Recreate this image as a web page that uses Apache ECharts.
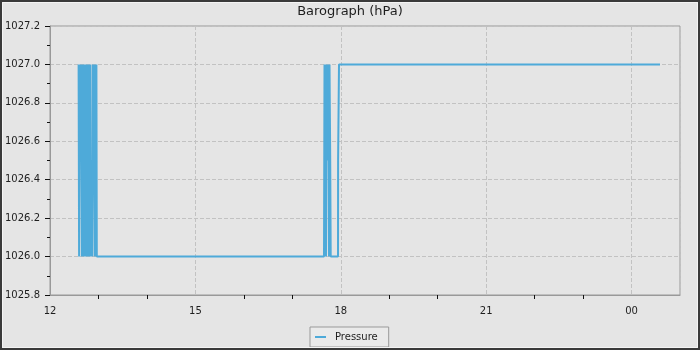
<!DOCTYPE html>
<html>
<head>
<meta charset="utf-8">
<script src="https://cdn.jsdelivr.net/npm/echarts@6/dist/echarts.min.js"></script>
<style>
html,body{margin:0;padding:0;background:#e5e5e5;}
#chart{width:700px;height:350px;}
</style>
</head>
<body>
<div id="chart"></div>
<script>
// Reading times (HH:MM:SS, times before 12:00 belong to the next day)
const times = [
  "12:35:25","12:36:02","12:36:31","12:37:09","12:37:53","12:38:31","12:39:30",
  "12:40:29","12:41:29","12:42:28","12:43:28","12:44:27","12:45:26","12:46:26",
  "12:47:25","12:48:25","12:49:17","12:49:54","12:50:31","12:51:01","12:52:00",
  "12:52:30","12:52:59","12:53:37","12:54:14","12:54:51","12:55:43","12:56:20",
  "12:56:57","12:57:27","12:57:56",
  "17:39:15","17:39:52","17:40:29","17:41:07","17:41:44","17:42:21","17:43:13",
  "17:44:27","17:45:26","17:46:04","17:46:56","17:47:33","17:56:35","17:56:42",
  "17:57:19","17:57:49","00:35:16"
];
// Pressure (hPa)
const pressure = [
  1027.0,1026.0,1026.5,1027.0,1026.5,1027.0,1026.0,
  1027.0,1026.0,1027.0,1026.0,1027.0,1026.0,1027.0,
  1026.0,1027.0,1026.0,1027.0,1026.0,1026.5,1026.5,
  1026.0,1027.0,1026.5,1027.0,1026.5,1026.0,1027.0,
  1026.0,1027.0,1026.0,
  1026.0,1027.0,1026.0,1027.0,1026.0,1027.0,1026.5,
  1027.0,1026.0,1027.0,1026.5,1026.0,1026.0,1026.5,
  1026.5,1027.0,1027.0
];
// X axis ticks (hours since midnight of first day) and their labels
const xTickHours = [12, 15, 18, 21, 24];
const xTickLabels = ["12", "15", "18", "21", "00"];
// Y axis ticks
const yTicks = [1025.8, 1026.0, 1026.2, 1026.4, 1026.6, 1026.8, 1027.0, 1027.2];

function toHours(t) {
  const p = t.split(":").map(Number);
  let h = p[0] + p[1] / 60 + p[2] / 3600;
  if (p[0] < 12) h += 24;
  return h;
}
const seriesData = times.map((t, i) => [toHours(t), pressure[i]]);

const font = "DejaVu Sans";
const chart = echarts.init(document.getElementById("chart"), null, {renderer: "canvas"});
chart.setOption({
  animation: false,
  backgroundColor: "#e5e5e5",
  title: {
    text: "Barograph (hPa)",
    left: "center",
    top: 0,
    textStyle: {fontFamily: font, fontSize: 13, fontWeight: "normal", color: "#1e1e1e"}
  },
  legend: {
    data: ["Pressure"],
    left: 310,
    top: 327,
    orient: "horizontal",
    icon: "rect",
    itemWidth: 11,
    itemHeight: 2,
    padding: [5, 11, 5, 5],
    backgroundColor: "#eaeaea",
    borderColor: "#999",
    borderWidth: 1,
    borderRadius: 0,
    textStyle: {fontFamily: font, fontSize: 10, color: "#1e1e1e", lineHeight: 10, padding: [0, 0, 0, 4]}
  },
  grid: {
    left: 50, right: 20, top: 26, bottom: 55,
    show: true, borderColor: "#999", borderWidth: 1, backgroundColor: "transparent"
  },
  xAxis: {
    type: "value",
    min: xTickHours[0],
    max: 25,
    interval: 3,
    axisLine: {show: true, lineStyle: {color: "#999", width: 1}},
    axisTick: {show: false},
    minorTick: {show: true, splitNumber: 3, length: 4, lineStyle: {color: "#111", width: 1}},
    splitLine: {show: true, lineStyle: {color: "#c2c2c2", type: [4, 2], width: 1}},
    axisLabel: {
      margin: 11,
      fontFamily: font, fontSize: 10, color: "#1e1e1e",
      formatter: function (v) {
        const i = xTickHours.indexOf(Math.round(v));
        return i >= 0 ? xTickLabels[i] : "";
      }
    }
  },
  yAxis: {
    type: "value",
    min: yTicks[0],
    max: yTicks[yTicks.length - 1],
    interval: 0.2,
    axisLine: {show: true, lineStyle: {color: "#999", width: 1}},
    axisTick: {show: true, length: 5, lineStyle: {color: "#111", width: 1}},
    minorTick: {show: true, splitNumber: 2, length: 3, lineStyle: {color: "#111", width: 1}},
    splitLine: {show: true, lineStyle: {color: "#c2c2c2", type: [4, 2], width: 1}},
    axisLabel: {
      margin: 10,
      fontFamily: font, fontSize: 10, color: "#1e1e1e",
      formatter: function (v) { return v.toFixed(1); }
    }
  },
  series: [{
    name: "Pressure",
    type: "line",
    data: seriesData,
    showSymbol: false,
    symbol: "none",
    lineStyle: {color: "#4eaad9", width: 2},
    itemStyle: {color: "#4eaad9"}
  }],
  graphic: [
    {type: "rect", z: 100, silent: true, shape: {x: 2.5, y: 2.5, width: 695, height: 345},
     style: {fill: "none", stroke: "#f4f4f4", lineWidth: 1}},
    {type: "rect", z: 101, silent: true, shape: {x: 1, y: 1, width: 698, height: 348},
     style: {fill: "none", stroke: "#3a3a3a", lineWidth: 2}}
  ]
});
</script>
</body>
</html>
